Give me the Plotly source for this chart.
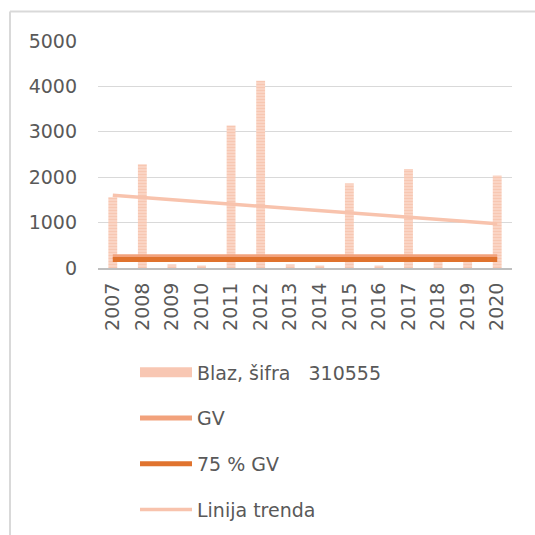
import plotly.graph_objects as go

years = ["2007", "2008", "2009", "2010", "2011", "2012", "2013",
         "2014", "2015", "2016", "2017", "2018", "2019", "2020"]
blaz = [1560, 2285, 80, 55, 3140, 4125, 80, 55, 1865, 55, 2180, 200, 190, 2035]
gv_x = ["2007", "2020"]
gv = [250, 250]
gv75 = [187.5, 187.5]
trend_x = ["2007", "2020"]
trend = [1600, 975]
y_ticks = [0, 1000, 2000, 3000, 4000, 5000]

FONT = "DejaVu Sans, Verdana, sans-serif"
TXT = "#595959"

fig = go.Figure()
fig.add_trace(go.Bar(
    x=years, y=blaz, name="Blaz, šifra   310555", width=0.3,
    marker=dict(color="#FAD3C2", line=dict(width=0),
                pattern=dict(shape="-", fgcolor="#F4B59B", bgcolor="#FAD8C9",
                             size=3, solidity=0.5)),
    legendgroup="a", showlegend=False,
))
fig.add_trace(go.Scatter(
    x=[None], y=[None], mode="lines", name="Blaz, šifra   310555",
    line=dict(color="#F8C7B3", width=10), legendgroup="a",
))
fig.add_trace(go.Scatter(
    x=gv_x, y=gv, mode="lines", name="GV",
    line=dict(color="#F2A27C", width=5), legendgroup="b",
))
fig.add_trace(go.Scatter(
    x=gv_x, y=gv75, mode="lines", name="75 % GV",
    line=dict(color="#E0732E", width=5), legendgroup="c",
))
fig.add_trace(go.Scatter(
    x=trend_x, y=trend, mode="lines", name="Linija trenda",
    line=dict(color="#F8C3AD", width=3.5), legendgroup="d",
))

fig.update_layout(
    width=535, height=535,
    margin=dict(l=98, r=23, t=41, b=267, autoexpand=False),
    paper_bgcolor="white", plot_bgcolor="white",
    font=dict(family=FONT, size=19, color=TXT),
    showlegend=True,
    legend=dict(orientation="v", xref="container", yref="container",
                x=135 / 535, xanchor="left", y=1 - 353.5 / 535, yanchor="top",
                font=dict(size=19, color=TXT), tracegroupgap=18,
                itemwidth=52, bgcolor="rgba(0,0,0,0)"),
    xaxis=dict(type="category", categoryorder="array", categoryarray=years,
               range=[-0.5, 13.5], tickangle=-90, showgrid=False,
               showline=True, linecolor="#BFBFBF", linewidth=2,
               ticks="", ticklabelstandoff=5, automargin=False,
               tickfont=dict(size=19, color=TXT)),
    yaxis=dict(range=[0, 5000], tickvals=y_ticks, showgrid=True,
               gridcolor="#D9D9D9", gridwidth=1, zeroline=False,
               showline=False, ticks="", ticklabelstandoff=20, automargin=False,
               tickfont=dict(size=19, color=TXT)),
    shapes=[
        dict(type="line", xref="paper", yref="paper",
             x0=(10 - 98) / 414, x1=(10 - 98) / 414,
             y0=(267.5 - 11) / 227, y1=(267.5 - 540) / 227,
             line=dict(color="#D9D9D9", width=2)),
        dict(type="line", xref="paper", yref="paper",
             x0=(10 - 98) / 414, x1=(540 - 98) / 414,
             y0=(267.5 - 11) / 227, y1=(267.5 - 11) / 227,
             line=dict(color="#D9D9D9", width=2)),
    ],
)

fig.write_html("out.html", config={"displayModeBar": False},
               post_script="document.body.style.margin='0';")
